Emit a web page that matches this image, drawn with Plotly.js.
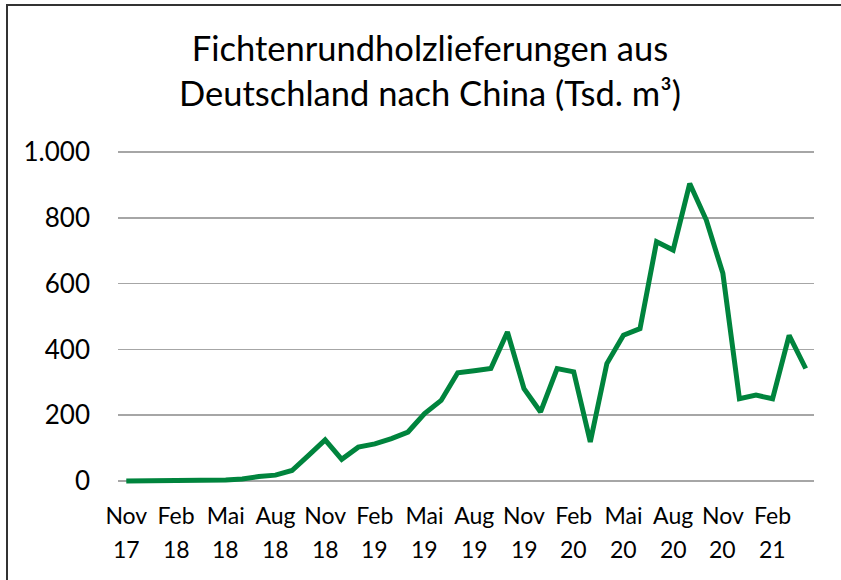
<!DOCTYPE html>
<html>
<head>
<meta charset="utf-8">
<script src="https://cdn.plot.ly/plotly-3.0.1.min.js"></script>
<style>
html,body{margin:0;padding:0;background:#fff;}
#chart{width:841px;height:580px;}
</style>
</head>
<body>
<div id="chart"></div>
<script>
const months = [
  "Nov 17","Dez 17","Jan 18","Feb 18","Mrz 18","Apr 18","Mai 18","Jun 18","Jul 18","Aug 18","Sep 18","Okt 18",
  "Nov 18","Dez 18","Jan 19","Feb 19","Mrz 19","Apr 19","Mai 19","Jun 19","Jul 19","Aug 19","Sep 19","Okt 19",
  "Nov 19","Dez 19","Jan 20","Feb 20","Mrz 20","Apr 20","Mai 20","Jun 20","Jul 20","Aug 20","Sep 20","Okt 20",
  "Nov 20","Dez 20","Jan 21","Feb 21","Mrz 21","Apr 21"
];
const deliveries = [
  0,0,0,0,0,1,3,6,14,18,32,78,
  125,66,103,113,129,149,205,245,329,335,342,453,
  281,210,342,332,119,357,443,463,727,702,904,793,
  631,250,261,250,443,342
];
const xTickVals = ["Nov 17","Feb 18","Mai 18","Aug 18","Nov 18","Feb 19","Mai 19","Aug 19","Nov 19","Feb 20","Mai 20","Aug 20","Nov 20","Feb 21"];
const xTickMonths = ["Nov","Feb","Mai","Aug","Nov","Feb","Mai","Aug","Nov","Feb","Mai","Aug","Nov","Feb"];
const xTickYears = ["17","18","18","18","18","19","19","19","19","20","20","20","20","21"];
const yTickVals = [0,200,400,600,800,1000];
const yTickText = ["0","200","400","600","800","1.000"];
const titleText = "Fichtenrundholzlieferungen aus<br>Deutschland nach China (Tsd. m³)";

const FONT = "Lato, 'Liberation Sans Narrow', sans-serif";

// plot-area geometry (pixels) used to convert to paper coords
const PL = 118, PR = 814, PT = 147, PB = 486;
const px2x = p => (p - PL) / (PR - PL);
const py2y = p => (PB - p) / (PB - PT);

const trace = {
  type: "scatter",
  mode: "lines",
  x: months,
  y: deliveries,
  line: {color: "#00843D", width: 5, shape: "linear"},
  hoverinfo: "x+y"
};

const yearAnnotations = xTickVals.map((v, i) => ({
  xref: "x", yref: "paper",
  x: v, y: py2y(549),
  xanchor: "center", yanchor: "middle",
  text: xTickYears[i],
  showarrow: false,
  font: {family: FONT, size: 23, color: "#000000"}
}));

const layout = {
  width: 841,
  height: 580,
  margin: {l: PL, r: 841 - PR, t: PT, b: 580 - PB, pad: 0},
  paper_bgcolor: "#ffffff",
  plot_bgcolor: "#ffffff",
  showlegend: false,
  font: {family: FONT, color: "#000000", size: 24},
  xaxis: {
    type: "category",
    range: [-0.5, 41.5],
    tickmode: "array",
    tickvals: xTickVals,
    ticktext: xTickMonths,
    showgrid: false,
    zeroline: false,
    showline: false,
    ticks: "",
    tickangle: 0,
    tickfont: {family: FONT, size: 23, color: "#000000"},
    ticklabelstandoff: 14
  },
  yaxis: {
    range: [-15, 1015],
    tickmode: "array",
    tickvals: yTickVals,
    ticktext: yTickText,
    showgrid: true,
    gridcolor: "#a6a6a6",
    gridwidth: 1.5,
    zeroline: false,
    showline: false,
    ticks: "",
    tickfont: {family: FONT, size: 26, color: "#000000"},
    ticklabelstandoff: 27
  },
  annotations: [{
    xref: "paper", yref: "paper",
    x: px2x(430), y: py2y(70),
    xanchor: "center", yanchor: "middle",
    align: "center",
    text: titleText,
    showarrow: false,
    font: {family: FONT, size: 34.5, color: "#000000"}
  }].concat(yearAnnotations),
  shapes: [{
    type: "rect", xref: "paper", yref: "paper",
    x0: px2x(7), x1: px2x(850),
    y0: py2y(590), y1: py2y(5),
    line: {color: "#333333", width: 2},
    fillcolor: "rgba(0,0,0,0)",
    layer: "below"
  }]
};

Plotly.newPlot("chart", [trace], layout, {displayModeBar: false, staticPlot: true});
</script>
</body>
</html>
